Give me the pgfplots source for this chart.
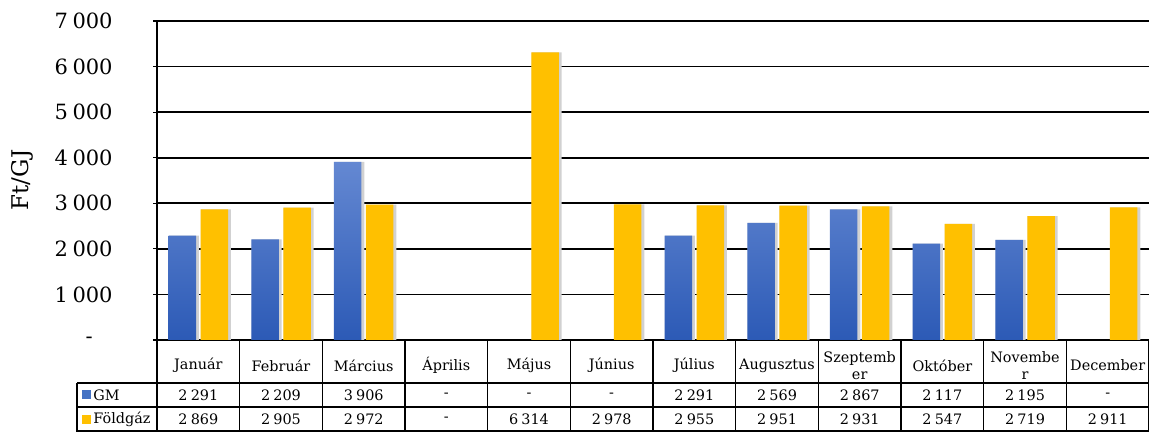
\documentclass[border=0pt]{standalone}
\usepackage{pgfplots}
\pgfplotsset{compat=1.18}
\usepackage{fontspec}
\setmainfont{DejaVu Serif}
\definecolor{gmtop}{RGB}{100,136,210}
\definecolor{gmbot}{RGB}{44,90,182}
\definecolor{gmleg}{RGB}{68,114,196}
\definecolor{fgaz}{RGB}{255,192,0}
\newcommand{\ts}{\hspace{0.22em}}
\begin{document}
\begin{tikzpicture}[x=1pt,y=1pt]
\useasboundingbox (0,0) rectangle (574.5,216);
\begin{axis}[
  at={(78.5pt,46pt)}, anchor=south west,
  scale only axis, width=496pt, height=159.5pt,
  xmin=-0.5, xmax=11.5, ymin=0, ymax=7000,
  axis lines*=left,
  axis line style={line width=0.8pt, black, -},
  xtick={0,...,11},
  xticklabels={Január,Február,Március,Április,Május,Június,Július,Augusztus,{Szeptemb\\er},Október,{Novembe\\r},December},
  x tick style={draw=none},
  xticklabel style={anchor=center, yshift=-10.75pt, align=center, font=\fontsize{7.2}{8.6}\selectfont},
  ytick={0,1000,...,7000},
  yticklabels={{-\hspace*{10pt}},1\ts000,2\ts000,3\ts000,4\ts000,5\ts000,6\ts000,7\ts000},
  y tick style={black, line width=0.6pt},
  tick align=outside, major tick length=2pt,
  yticklabel style={anchor=east, inner sep=0pt, xshift=-20pt, font=\fontsize{10.5}{12}\selectfont},
  ymajorgrids, grid style={black, line width=0.8pt},
  bar width=13.75pt,
  clip=false,
]
% shadows
\addplot[ybar, bar shift=-7.2pt, bar width=15pt, fill=black!18, draw=none]
  coordinates {(0,2291) (1,2209) (2,3906) (6,2291) (7,2569) (8,2867) (9,2117) (10,2195)};
\addplot[ybar, bar shift=8.8pt, bar width=15pt, fill=black!18, draw=none]
  coordinates {(0,2869) (1,2905) (2,2972) (4,6314) (5,2978) (6,2955) (7,2951) (8,2931) (9,2547) (10,2719) (11,2911)};
% GM
\addplot[ybar, bar shift=-8pt, draw=none, top color=gmtop, bottom color=gmbot]
  coordinates {(0,2291) (1,2209) (2,3906) (6,2291) (7,2569) (8,2867) (9,2117) (10,2195)};
% Foldgaz
\addplot[ybar, bar shift=8pt, draw=none, fill=fgaz]
  coordinates {(0,2869) (1,2905) (2,2972) (4,6314) (5,2978) (6,2955) (7,2951) (8,2931) (9,2547) (10,2719) (11,2911)};
\end{axis}
% y label
\node[rotate=90, font=\fontsize{11.5}{13}\selectfont] at (11,126) {Ft/GJ};
% data table
\begin{scope}[line width=0.8pt]
\draw (38.5,24.5) -- (574.5,24.5);
\draw (38.5,12.5) -- (574.5,12.5);
\draw (38.5,0.4) -- (574.5,0.4);
\draw (38.5,24.5) -- (38.5,0);
\foreach \i in {0,...,12} { \draw (78.5+41.3333*\i,46) -- (78.5+41.3333*\i,0); }
\end{scope}
\begin{scope}[font=\fontsize{7.2}{8.6}\selectfont]
\foreach \v [count=\i from 0] in {2\ts291,2\ts209,3\ts906,-,-,-,2\ts291,2\ts569,2\ts867,2\ts117,2\ts195,-}
  { \node at (78.5+41.3333*\i+20.6667,18.5) {\v}; }
\foreach \v [count=\i from 0] in {2\ts869,2\ts905,2\ts972,-,6\ts314,2\ts978,2\ts955,2\ts951,2\ts931,2\ts547,2\ts719,2\ts911}
  { \node at (78.5+41.3333*\i+20.6667,6.25) {\v}; }
\fill[gmleg] (41,16.25) rectangle (45.5,20.75);
\node[anchor=west, inner sep=0pt] at (46.5,18.5) {GM};
\fill[fgaz] (41,4) rectangle (45.5,8.5);
\node[anchor=west, inner sep=0pt] at (46.5,6.25) {Földgáz};
\end{scope}
\end{tikzpicture}
\end{document}
